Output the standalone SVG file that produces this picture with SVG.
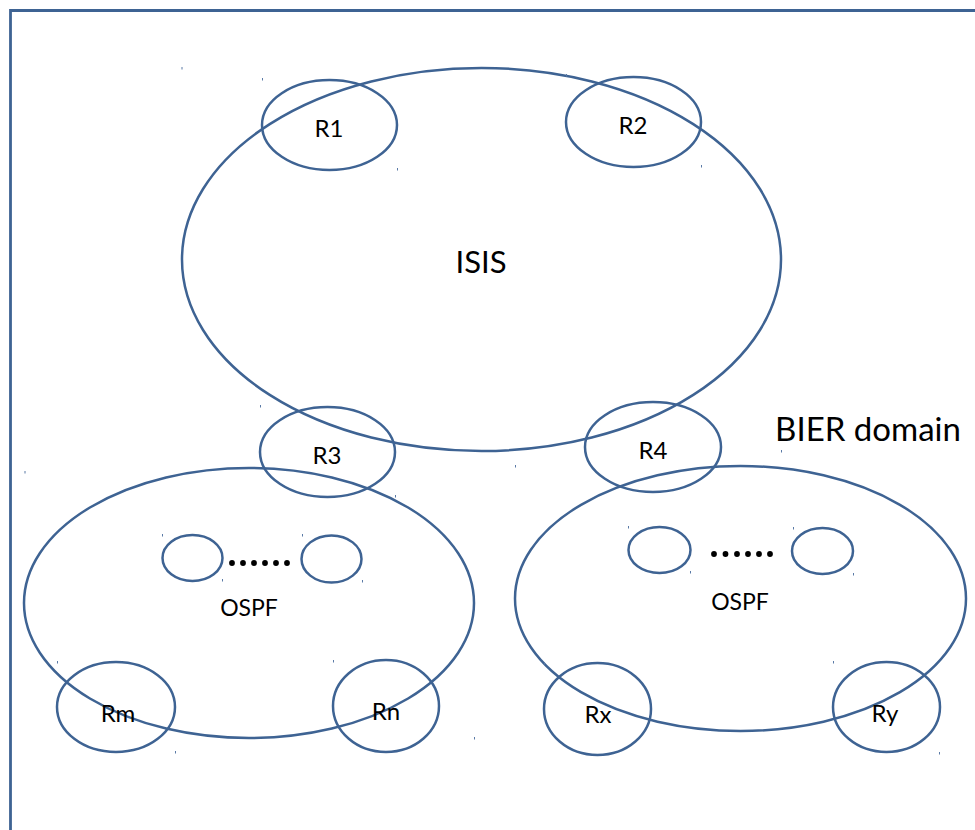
<svg xmlns="http://www.w3.org/2000/svg" width="975" height="830" viewBox="0 0 975 830">
  <style>
    .ring { fill: none; stroke: #3e6393; stroke-width: 2.5; }
    .frame { fill: none; stroke: #3e6393; stroke-width: 2.8; }
    .lbl { font-family: Lato, "Liberation Sans", sans-serif; fill: #000; text-anchor: middle; }
    .r { font-size: 24px; }
    .area { font-size: 23px; }
    .big { font-size: 31px; }
    .dom { font-size: 33px; }
    .dot { fill: #000; }
    .speck { fill: #5a7aa6; }
  </style>
  <rect width="975" height="830" fill="#fff"/>
  <!-- outer frame, open to the right and bottom -->
  <path class="frame" d="M10.5,840 V10.5 H985"/>

  <g id="connectors"></g>

  <!-- IS-IS area -->
  <g id="isis">
    <ellipse class="ring" cx="481.5" cy="259.5" rx="299.5" ry="191.5"/>
    <text class="lbl big" x="481" y="273">ISIS</text>
  </g>
  <g id="r1">
    <ellipse class="ring" cx="329.5" cy="125" rx="67.5" ry="45"/>
    <text class="lbl r" x="329" y="137">R1</text>
  </g>
  <g id="r2">
    <ellipse class="ring" cx="633.5" cy="122" rx="67.5" ry="45"/>
    <text class="lbl r" x="633" y="134">R2</text>
  </g>
  <g id="r3">
    <ellipse class="ring" cx="327.5" cy="452" rx="67.5" ry="45"/>
    <text class="lbl r" x="327" y="464">R3</text>
  </g>
  <g id="r4">
    <ellipse class="ring" cx="653" cy="447" rx="68" ry="45"/>
    <text class="lbl r" x="653" y="459">R4</text>
  </g>

  <!-- left OSPF area -->
  <g id="ospf-left">
    <ellipse class="ring" cx="249" cy="603" rx="225" ry="135"/>
    <ellipse class="ring" cx="192.5" cy="558" rx="30" ry="23"/>
    <ellipse class="ring" cx="331.5" cy="559" rx="30" ry="23.5"/>
    <g class="dot">
      <circle cx="232" cy="563" r="2.9"/><circle cx="243" cy="563" r="2.9"/><circle cx="254" cy="563" r="2.9"/>
      <circle cx="265" cy="563" r="2.9"/><circle cx="276" cy="563" r="2.9"/><circle cx="287" cy="563" r="2.9"/>
    </g>
    <text class="lbl area" x="249" y="616">OSPF</text>
  </g>
  <g id="rm">
    <ellipse class="ring" cx="116" cy="707" rx="59" ry="45"/>
    <text class="lbl r" x="118" y="722">Rm</text>
  </g>
  <g id="rn">
    <ellipse class="ring" cx="386" cy="706" rx="53" ry="46"/>
    <text class="lbl r" x="386" y="720">Rn</text>
  </g>

  <!-- right OSPF area -->
  <g id="ospf-right">
    <ellipse class="ring" cx="740.5" cy="598.5" rx="225.5" ry="132.5"/>
    <ellipse class="ring" cx="659.5" cy="550" rx="31" ry="23"/>
    <ellipse class="ring" cx="822.5" cy="551" rx="30.5" ry="23"/>
    <g class="dot">
      <circle cx="714" cy="554" r="2.9"/><circle cx="725.5" cy="554" r="2.9"/><circle cx="737" cy="554" r="2.9"/>
      <circle cx="748" cy="554" r="2.9"/><circle cx="759" cy="554" r="2.9"/><circle cx="770" cy="554" r="2.9"/>
    </g>
    <text class="lbl area" x="740" y="610">OSPF</text>
  </g>
  <g id="rx">
    <ellipse class="ring" cx="597.5" cy="709" rx="53.5" ry="46"/>
    <text class="lbl r" x="598" y="723">Rx</text>
  </g>
  <g id="ry">
    <ellipse class="ring" cx="886.5" cy="707" rx="53.5" ry="45"/>
    <text class="lbl r" x="885" y="722">Ry</text>
  </g>

  <g id="domain-label">
    <text class="lbl dom" x="868" y="441">BIER domain</text>
  </g>

  <!-- small corner ticks of the shape boxes -->
  <g class="speck">
    <rect x="181.5" y="67" width="1" height="2.5"/>
    <rect x="262" y="78" width="1" height="2.5"/>
    <rect x="397" y="168" width="1" height="2.5"/>
    <rect x="566" y="74" width="1" height="2.5"/>
    <rect x="701" y="165" width="1" height="2.5"/>
    <rect x="260" y="405" width="1" height="2.5"/>
    <rect x="395" y="495" width="1" height="2.5"/>
    <rect x="24.5" y="471" width="1" height="2.5"/>
    <rect x="515" y="465" width="1" height="2.5"/>
    <rect x="781" y="450" width="1" height="2.5"/>
    <rect x="162" y="534" width="1" height="2.5"/>
    <rect x="222" y="579" width="1" height="2.5"/>
    <rect x="302" y="534" width="1" height="2.5"/>
    <rect x="362" y="580" width="1" height="2.5"/>
    <rect x="628" y="526" width="1" height="2.5"/>
    <rect x="690" y="571" width="1" height="2.5"/>
    <rect x="793" y="527" width="1" height="2.5"/>
    <rect x="853" y="573" width="1" height="2.5"/>
    <rect x="57" y="661" width="1" height="2.5"/>
    <rect x="175" y="751" width="1" height="2.5"/>
    <rect x="333" y="660" width="1" height="2.5"/>
    <rect x="474" y="737" width="1" height="2.5"/>
    <rect x="544" y="662" width="1" height="2.5"/>
    <rect x="833" y="661" width="1" height="2.5"/>
    <rect x="939" y="752" width="1" height="2.5"/>
  </g>
</svg>
